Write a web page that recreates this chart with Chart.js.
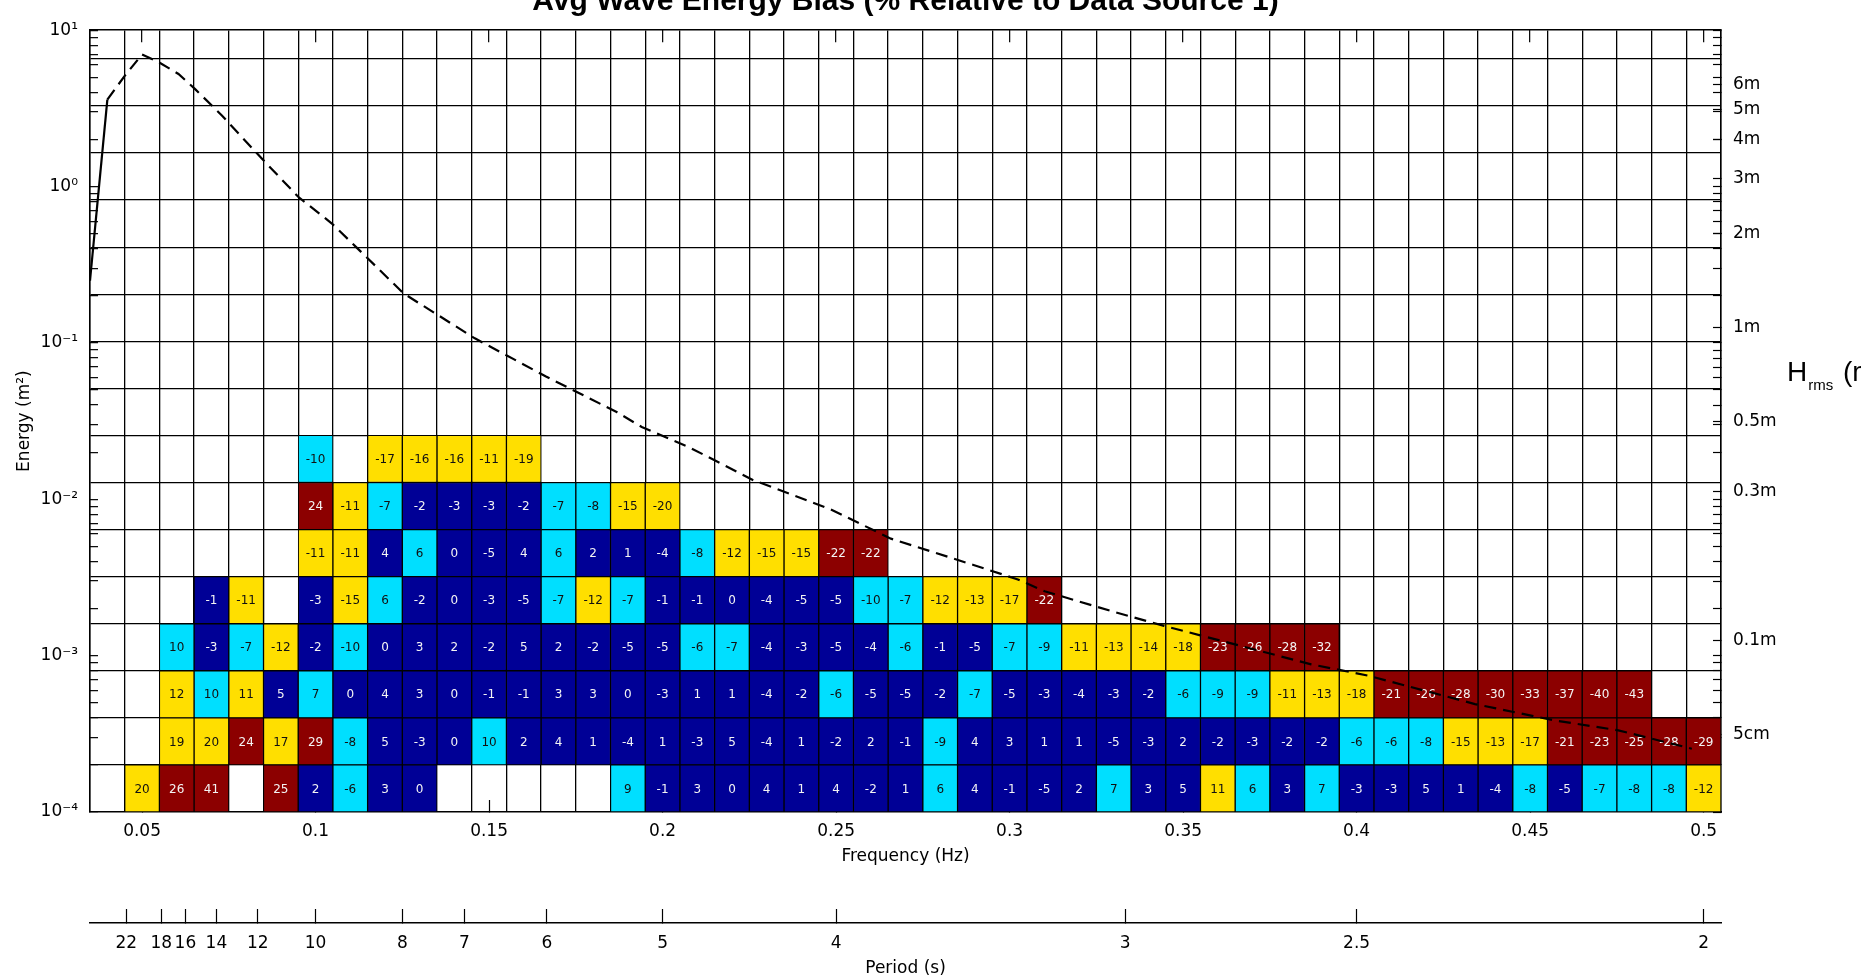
<!DOCTYPE html>
<html>
<head>
<meta charset="utf-8">
<script src="https://cdn.jsdelivr.net/npm/chart.js@4.4.1/dist/chart.umd.min.js"></script>
<style>
  html, body { margin: 0; padding: 0; background: #fff; overflow: hidden; }
  canvas { display: block; }
</style>
</head>
<body>
<canvas id="biasChart" width="1861" height="980"></canvas>
<script>
const _ = null;

// frequency bin centres (Hz)
const freqs = [0.04, 0.05, 0.06, 0.07, 0.08, 0.09, 0.10, 0.11, 0.12, 0.13, 0.14, 0.15,
  0.16, 0.17, 0.18, 0.19, 0.20, 0.21, 0.22, 0.23, 0.24, 0.25, 0.26, 0.27, 0.28, 0.29,
  0.30, 0.31, 0.32, 0.33, 0.34, 0.35, 0.36, 0.37, 0.38, 0.39, 0.40, 0.41, 0.42, 0.43,
  0.44, 0.45, 0.46, 0.47, 0.48, 0.49, 0.50];

// energy bin edges (m^2), bottom to top (also the horizontal grid)
const energyEdges = [1e-4, 2e-4, 4e-4, 8e-4, 0.0016, 0.0032, 0.0064, 0.0128, 0.0256,
  0.0512, 0.1024, 0.2048, 0.4096, 0.8192, 1.6384, 3.2768, 6.5536];

// bias (%) per energy bin, one entry per frequency bin
const biasRow0 = [_, 20, 26, 41, _, 25, 2, -6, 3, 0, _, _, _, _, _, 9, -1, 3, 0, 4, 1, 4, -2, 1,
  6, 4, -1, -5, 2, 7, 3, 5, 11, 6, 3, 7, -3, -3, 5, 1, -4, -8, -5, -7, -8, -8, -12];
const biasRow1 = [_, _, 19, 20, 24, 17, 29, -8, 5, -3, 0, 10, 2, 4, 1, -4, 1, -3, 5, -4, 1, -2, 2, -1,
  -9, 4, 3, 1, 1, -5, -3, 2, -2, -3, -2, -2, -6, -6, -8, -15, -13, -17, -21, -23, -25, -28, -29];
const biasRow2 = [_, _, 12, 10, 11, 5, 7, 0, 4, 3, 0, -1, -1, 3, 3, 0, -3, 1, 1, -4, -2, -6, -5, -5,
  -2, -7, -5, -3, -4, -3, -2, -6, -9, -9, -11, -13, -18, -21, -26, -28, -30, -33, -37, -40, -43];
const biasRow3 = [_, _, 10, -3, -7, -12, -2, -10, 0, 3, 2, -2, 5, 2, -2, -5, -5, -6, -7, -4, -3, -5, -4, -6,
  -1, -5, -7, -9, -11, -13, -14, -18, -23, -26, -28, -32];
const biasRow4 = [_, _, _, -1, -11, _, -3, -15, 6, -2, 0, -3, -5, -7, -12, -7, -1, -1, 0, -4, -5, -5, -10, -7,
  -12, -13, -17, -22];
const biasRow5 = [_, _, _, _, _, _, -11, -11, 4, 6, 0, -5, 4, 6, 2, 1, -4, -8, -12, -15, -15, -22, -22];
const biasRow6 = [_, _, _, _, _, _, 24, -11, -7, -2, -3, -3, -2, -7, -8, -15, -20];
const biasRow7 = [_, _, _, _, _, _, -10, _, -17, -16, -16, -11, -19];
const biasRows = [biasRow0, biasRow1, biasRow2, biasRow3, biasRow4, biasRow5, biasRow6, biasRow7];

// mean energy curve (dashed)
const curveFreq = [0.035, 0.040, 0.045, 0.050, 0.0545, 0.0605, 0.0653, 0.073, 0.0845, 0.095, 0.1047,
  0.1117, 0.1254, 0.1459, 0.1664, 0.1869, 0.194, 0.2075, 0.226, 0.2485, 0.2658, 0.2896, 0.3024,
  0.3101, 0.3306, 0.3445, 0.3869, 0.4033, 0.4341, 0.4571, 0.4754, 0.4966];
const curveEnergy = [0.25, 3.6, 5.1, 7.0, 6.3, 5.25, 4.2, 2.85, 1.51, 0.86, 0.58,
  0.41, 0.207, 0.107, 0.061, 0.036, 0.029, 0.0216, 0.0133, 0.0086, 0.0056, 0.0038, 0.00307,
  0.00258, 0.00189, 0.00155, 0.00088, 0.000745, 0.00049, 0.000385, 0.000333, 0.000254];

// axis ticks
const freqTicks = [0.05, 0.1, 0.15, 0.2, 0.25, 0.3, 0.35, 0.4, 0.45, 0.5];
const periodTicks = [22, 18, 16, 14, 12, 10, 8, 7, 6, 5, 4, 3, 2.5, 2];
const periodLabels = ['22', '18', '16', '14', '12', '10', '8', '7', '6', '5', '4', '3', '2.5', '2'];
const energyDecades = [1e-4, 1e-3, 1e-2, 1e-1, 1, 10];
const decadeLabels = ['10⁻⁴', '10⁻³', '10⁻²', '10⁻¹', '10⁰', '10¹'];
const hrmsTicks = [6, 5, 4, 3, 2, 1, 0.5, 0.3, 0.1, 0.05];
const hrmsLabels = ['6m', '5m', '4m', '3m', '2m', '1m', '0.5m', '0.3m', '0.1m', '5cm'];

const chartTitle = 'Avg Wave Energy Bias (% Relative to Data Source 1)';

// ---------------------------------------------------------------

const halfBin = (freqs[1] - freqs[0]) / 2;
const xMin = freqs[0] - halfBin;
const xMax = freqs[freqs.length - 1] + halfBin;
const cellEdges = freqs.map(f => f - halfBin).concat([xMax]);
const yMin = energyDecades[0];
const yMax = energyDecades[energyDecades.length - 1];

function biasColor(v) {
    const a = Math.abs(v);
    if (a <= 5) return '#000096';
    if (a <= 10) return '#00dfff';
    if (a <= 20) return '#ffdf00';
    return '#8c0000';
}
function biasTextColor(v) {
    const a = Math.abs(v);
    return (a <= 5 || a > 20) ? '#f4f4f4' : '#111111';
}

// log tick marks (decades + minors)
function logMarks() {
    const out = [];
    energyDecades.forEach((d, i) => {
        for (let m = 1; m <= 9; m++) {
            const v = m * d;
            if (v > yMax * 1.0001) break;
            out.push({ value: v, mark: true, text: m === 1 ? decadeLabels[i] : '' });
        }
    });
    return out;
}

const clear = 'rgba(0,0,0,0)';
const gridColor = c => (c.tick && c.tick.edge ? '#000' : clear);
const markColor = c => (c.tick && c.tick.mark ? '#000' : clear);

const cellSets = biasRows.map((row, r) => ({
    type: 'bar',
    label: 'bin ' + r,
    data: freqs.map((f, i) => row[i] == null ? null :
        { x: f, y: [energyEdges[r], energyEdges[r + 1]], v: row[i] }).filter(Boolean),
    backgroundColor: c => (c.raw ? biasColor(c.raw.v) : clear),
    borderColor: '#000',
    borderWidth: 1,
    borderSkipped: false,
    barPercentage: 1,
    categoryPercentage: 1,
    grouped: false,
    order: 2,
}));

const curveSet = {
    type: 'line',
    label: 'energy',
    data: curveFreq.map((f, i) => ({ x: f, y: curveEnergy[i] })),
    borderColor: '#000',
    borderWidth: 2.2,
    borderDash: [12, 7],
    pointRadius: 0,
    tension: 0,
    fill: false,
    segment: { borderDash: c => (c.p0DataIndex === 0 ? [] : undefined) },
    order: 1,
};

const labelPlugin = {
    id: 'cellLabels',
    afterDatasetDraw(chart, args) {
        const ds = chart.data.datasets[args.index];
        if (ds.type !== 'bar') return;
        const ctx = chart.ctx;
        ctx.save();
        ctx.font = '12px "DejaVu Sans"';
        ctx.textAlign = 'center';
        ctx.textBaseline = 'middle';
        args.meta.data.forEach((el, j) => {
            const v = ds.data[j].v;
            const p = el.getProps(['x', 'y', 'base'], true);
            ctx.fillStyle = biasTextColor(v);
            ctx.fillText(String(v), p.x, (p.y + p.base) / 2 + 1);
        });
        ctx.restore();
    },
    afterDraw(chart) {
        const { ctx, chartArea } = chart;
        ctx.save();
        ctx.fillStyle = '#000';
        ctx.textBaseline = 'alphabetic';
        ctx.textAlign = 'center';
        ctx.font = 'bold 30px "Liberation Sans"';
        ctx.fillText(chartTitle, (chartArea.left + chartArea.right) / 2, 10);

        ctx.textAlign = 'left';
        let x = chartArea.right + 66;
        ctx.font = '28px "Liberation Sans"';
        ctx.fillText('H', x, 381);
        x += ctx.measureText('H').width + 1;
        ctx.font = '15px "Liberation Sans"';
        ctx.fillText('rms', x, 390);
        x += ctx.measureText('rms').width + 2;
        ctx.font = '28px "Liberation Sans"';
        ctx.fillText(' (m)', x, 381);
        ctx.restore();
    },
};

Chart.defaults.font.family = 'DejaVu Sans';
Chart.defaults.font.size = 17;
Chart.defaults.color = '#000';

const axisBorder = { color: '#000', width: 1.5 };

new Chart(document.getElementById('biasChart'), {
    type: 'bar',
    data: { datasets: [curveSet].concat(cellSets) },
    options: {
        responsive: false,
        animation: false,
        devicePixelRatio: 1,
        layout: { padding: { top: 26, left: 0, right: 0, bottom: 0 } },
        plugins: { legend: { display: false }, tooltip: { enabled: false }, title: { display: false } },
        scales: {
            x: {
                type: 'linear', position: 'bottom', min: xMin, max: xMax, offset: false,
                afterBuildTicks: a => { a.ticks = freqTicks.map(v => ({ value: v })); },
                ticks: { autoSkip: false, maxRotation: 0, padding: 21, callback: v => String(parseFloat(v.toFixed(2))) },
                grid: { drawOnChartArea: false, offset: false, tickLength: -12, tickColor: '#000', tickWidth: 1.2 },
                border: axisBorder,
                title: { display: true, text: 'Frequency (Hz)', padding: { top: 0, bottom: 56 } },
                afterFit: s => { s.height = 111; },
            },
            x2: {
                type: 'linear', position: 'bottom', weight: 1, min: xMin, max: xMax, offset: false,
                afterBuildTicks: a => { a.ticks = periodTicks.map(T => ({ value: 1 / T })); },
                ticks: { autoSkip: false, maxRotation: 0, padding: 24, callback: (v, i) => periodLabels[i] },
                grid: { drawOnChartArea: false, offset: false, tickLength: -14, tickColor: '#000', tickWidth: 1.2 },
                border: axisBorder,
                title: { display: true, text: 'Period (s)', padding: { top: 0, bottom: 1 } },
                afterFit: s => { s.height = 57; },
            },
            xTop: {
                type: 'linear', position: 'top', min: xMin, max: xMax, offset: false,
                afterBuildTicks: a => {
                    a.ticks = cellEdges.map(v => ({ value: v, edge: true }))
                        .concat(freqTicks.map(v => ({ value: v, mark: true })));
                },
                ticks: { display: false, autoSkip: false },
                grid: { offset: false, color: gridColor, tickColor: markColor, tickLength: -12, lineWidth: 1.3, tickWidth: 1.2 },
                border: axisBorder,
                afterFit: s => { s.height = 0; },
            },
            y: {
                type: 'logarithmic', position: 'left', min: yMin, max: yMax,
                afterBuildTicks: a => {
                    a.ticks = energyEdges.slice(1).map(v => ({ value: v, edge: true, text: '' }))
                        .concat(logMarks()).sort((p, q) => p.value - q.value);
                },
                ticks: { autoSkip: false, padding: 20, callback: (v, i, t) => t[i].text || '' },
                grid: { color: gridColor, tickColor: markColor, tickLength: -8, lineWidth: 1.3, tickWidth: 1.2 },
                border: axisBorder,
                title: { display: true, text: 'Energy (m²)', padding: { top: 14, bottom: 0 } },
                afterFit: s => { s.width = 90; },
            },
            y2: {
                type: 'logarithmic', position: 'right', min: yMin, max: yMax,
                afterBuildTicks: a => {
                    a.ticks = logMarks().map(t => ({ value: t.value, mark: true, text: '' }))
                        .concat(hrmsTicks.map((h, i) => ({ value: h * h / 8, mark: true, text: hrmsLabels[i] })))
                        .sort((p, q) => p.value - q.value);
                },
                ticks: { autoSkip: false, padding: 20, callback: (v, i, t) => t[i].text || '' },
                grid: { drawOnChartArea: false, tickColor: '#000', tickLength: -8, tickWidth: 1.2 },
                border: axisBorder,
                afterFit: s => { s.width = 140; },
            },
        },
    },
    plugins: [labelPlugin],
});
</script>
</body>
</html>
